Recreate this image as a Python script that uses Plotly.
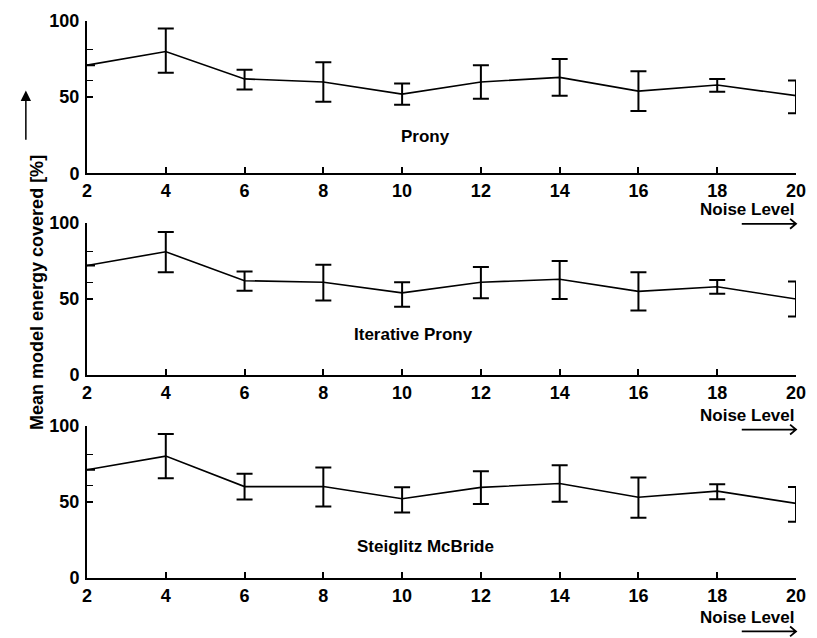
import plotly.graph_objects as go

noise = [2, 4, 6, 8, 10, 12, 14, 16, 18, 20]
x_ticks = [2, 4, 6, 8, 10, 12, 14, 16, 18, 20]
y_ticks = [0, 50, 100]
y_minor = [61, 81]

methods = ["Prony", "Iterative Prony", "Steiglitz McBride"]

prony_mean = [71, 80, 62, 60, 52, 60, 63, 54, 58, 51]
prony_plus = [0, 15, 6, 13, 7, 11, 12, 13, 4, 10]
prony_minus = [0, 14, 7, 13, 7, 11, 12, 13, 4.5, 11.5]

iter_mean = [72, 81, 62, 61, 54, 61, 63, 55, 58, 50]
iter_plus = [0, 13, 6, 11.5, 7, 10, 12, 12.5, 4.5, 11.5]
iter_minus = [0, 13.5, 6.5, 12, 9, 10.5, 13, 12.5, 4.5, 11.5]

stmcb_mean = [71, 80, 60, 60, 52, 59.5, 62, 53, 57, 49]
stmcb_plus = [0, 14.5, 8.5, 12.5, 7.5, 10.5, 12, 13, 4.5, 10.7]
stmcb_minus = [0, 14.5, 8.5, 13, 9, 11, 12, 13.5, 5.3, 12]

label_pos = [(10.6, 24), (10.3, 27), (10.6, 21)]

y_title = "Mean model energy covered [%]"
x_title = "Noise Level"

W, H = 817, 638
ML, MR, MT, MB = 87, 11, 15, 60
PW, PH = W - ML - MR, H - MT - MB


def px(x):
    return (x - ML) / PW


def py(y):
    return (H - MB - y) / PH


FONT = "Liberation Sans, Arial, Helvetica, sans-serif"

series = [
    (prony_mean, prony_plus, prony_minus),
    (iter_mean, iter_plus, iter_minus),
    (stmcb_mean, stmcb_plus, stmcb_minus),
]

domains = [[py(169), py(15)], [py(373), py(219)], [py(578), py(424)]]

fig = go.Figure()
layout = dict(
    width=W, height=H,
    margin=dict(l=ML, r=MR, t=MT, b=MB),
    paper_bgcolor="white", plot_bgcolor="white",
    showlegend=False,
    font=dict(family=FONT, color="black"),
)

annotations = []
shapes = []

for i, (m, p, n) in enumerate(series):
    k = "" if i == 0 else str(i + 1)
    fig.add_trace(go.Scatter(
        x=noise, y=m, mode="lines",
        line=dict(color="black", width=1.6),
        error_y=dict(type="data", symmetric=False, array=p, arrayminus=n,
                     color="black", thickness=2, width=8),
        xaxis="x" + k, yaxis="y" + k, cliponaxis=True,
    ))
    layout["xaxis" + k] = dict(
        domain=[0, 1], anchor="y" + k, range=[2, 20],
        tickvals=x_ticks, ticks="inside", ticklen=6, tickwidth=1.5, tickcolor="black",
        showline=True, linecolor="black", linewidth=2, showgrid=False, zeroline=False,
        tickfont=dict(size=18, family=FONT, weight="bold"),
        ticklabelstandoff=0,
    )
    layout["yaxis" + k] = dict(
        domain=domains[i], anchor="x" + k, range=[0, 100],
        tickvals=y_ticks, ticks="inside", ticklen=6, tickwidth=1.5, tickcolor="black",
        showline=True, linecolor="black", linewidth=2, showgrid=False, zeroline=False,
        tickfont=dict(size=18, family=FONT, weight="bold"),
        ticklabelstandoff=2,
        minor=dict(tickvals=y_minor, ticks="inside", ticklen=6, tickwidth=1.2, tickcolor="black"),
    )
    lx, ly = label_pos[i]
    annotations.append(dict(
        x=lx, y=ly, xref="x" + k, yref="y" + k, text=methods[i], showarrow=False,
        font=dict(size=17, family=FONT, weight="bold"),
    ))

# Noise Level labels with arrows
for ty, ay in [(206, 220), (414, 428), (618, 632)]:
    annotations.append(dict(
        x=px(807), y=py(ty), xref="paper", yref="paper", xanchor="right", yanchor="middle",
        text=x_title, showarrow=False, font=dict(size=17, family=FONT, weight="bold"),
    ))
    shapes.append(dict(
        type="path", xref="paper", yref="paper",
        path=(f"M {px(751)} {py(ay)} L {px(806)} {py(ay)} "
              f"M {px(800)} {py(ay - 5)} L {px(806)} {py(ay)} L {px(800)} {py(ay + 5)}"),
        line=dict(color="black", width=1.8),
    ))

# Y title with upward arrow
annotations.append(dict(
    x=px(24), y=py(289), xref="paper", yref="paper", text=y_title, textangle=-90,
    showarrow=False, font=dict(size=18, family=FONT, weight="bold"),
))
shapes.append(dict(
    type="path", xref="paper", yref="paper",
    path=(f"M {px(25)} {py(135)} L {px(25)} {py(88)} "
          f"M {px(21)} {py(95)} L {px(25)} {py(87)} L {px(29)} {py(95)} Z"),
    line=dict(color="black", width=1.5), fillcolor="black",
))

layout["annotations"] = annotations
layout["shapes"] = shapes
fig.update_layout(**layout)
fig.write_html("out.html")
